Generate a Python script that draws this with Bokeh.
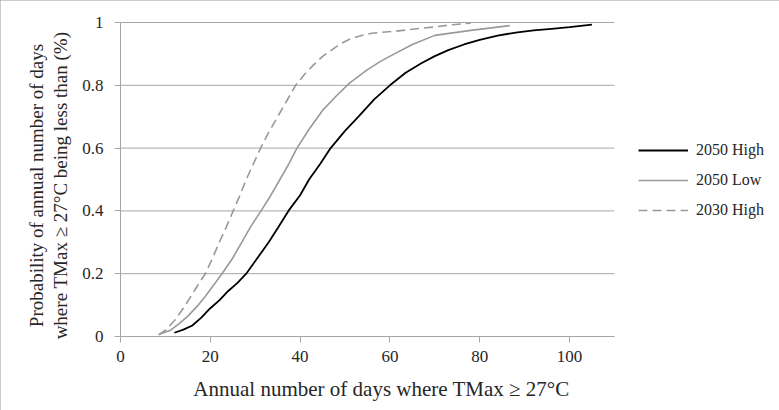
import math
from bokeh.plotting import figure
from bokeh.models import Range1d, FixedTicker, Legend, LegendItem, LinearAxis, Label
from bokeh.core.properties import value
from bokeh.embed import file_html
from bokeh.resources import INLINE

# ---- data ----
high2050_x = [12, 14, 16, 18, 20, 22, 24, 26, 28, 30.5, 33, 35, 37.4, 40, 42, 44.5, 46.8, 50, 53, 56.5, 60, 63.5, 67, 70, 73, 76.5, 80, 84, 88, 92, 96, 100, 105]
high2050_y = [0.012, 0.022, 0.035, 0.06, 0.09, 0.115, 0.145, 0.17, 0.2, 0.25, 0.3, 0.345, 0.4, 0.45, 0.5, 0.55, 0.6, 0.655, 0.7, 0.755, 0.8, 0.84, 0.87, 0.893, 0.912, 0.93, 0.945, 0.958, 0.968, 0.975, 0.98, 0.985, 0.993]

low2050_x = [8.5, 11, 13, 15, 17, 19, 20.8, 22.6, 25, 27, 29, 31.3, 33.5, 35.5, 37.5, 39.3, 42, 45, 48, 51, 55, 58, 61, 65, 70, 78, 86.7]
low2050_y = [0.006, 0.019, 0.04, 0.065, 0.095, 0.13, 0.165, 0.2, 0.25, 0.3, 0.35, 0.4, 0.45, 0.5, 0.55, 0.6, 0.66, 0.72, 0.765, 0.807, 0.85, 0.877, 0.9, 0.93, 0.959, 0.975, 0.99]

high2030_x = [8.5, 10, 12, 14, 16, 17.5, 18.9, 20.5, 22, 23.6, 25.1, 26.6, 28, 29.6, 31.2, 33, 35, 37, 39, 41, 43, 45, 47, 49, 51.2, 53.5, 56, 61, 66, 70, 74, 78]
high2030_y = [0.005, 0.02, 0.05, 0.09, 0.135, 0.17, 0.2, 0.25, 0.3, 0.35, 0.4, 0.45, 0.5, 0.55, 0.6, 0.65, 0.7, 0.75, 0.8, 0.835, 0.865, 0.892, 0.912, 0.932, 0.948, 0.958, 0.966, 0.972, 0.98, 0.986, 0.993, 0.998]

series_names = ["2050 High", "2050 Low", "2030 High"]
x_ticks = [0, 20, 40, 60, 80, 100]
x_tick_labels = ["0", "20", "40", "60", "80", "100"]
x_axis_end = 110
y_ticks = [0, 0.2, 0.4, 0.6, 0.8, 1]
y_tick_labels = ["0", "0.2", "0.4", "0.6", "0.8", "1"]
x_title = "Annual number of days where TMax \u2265 27\u00b0C"
y_title = "Probability of annual number of days\nwhere TMax \u2265 27\u00b0C being less than (%)"

FONT = "Liberation Serif"
AXIS_GRAY = "#a6a6a6"
TEXT = "#262626"

W, H = 779, 410
# plot area of the reference in pixels: x 0 -> 120px, 100 -> 569px; y 0 -> 336px, 1 -> 22px
PX_X = 4.49
PX_Y = 314.0
X0_PX, Y0_PX = 120, 336

p = figure(
    width=W, height=H,
    min_border_left=0, min_border_right=0, min_border_top=0, min_border_bottom=0,
    x_range=Range1d(-X0_PX / PX_X, (W - X0_PX) / PX_X),
    y_range=Range1d(-(H - Y0_PX) / PX_Y, Y0_PX / PX_Y),
    x_axis_type=None, y_axis_type=None,
    output_backend="svg", toolbar_location=None,
)
p.outline_line_color = None
p.background_fill_color = "white"
p.border_fill_color = "white"
p.styles = {"outline": "2px solid #999999", "outline-offset": "-2px"}
p.xgrid.visible = False
p.ygrid.visible = False

common = dict(
    fixed_location=0,
    axis_line_color=AXIS_GRAY, major_tick_line_color=AXIS_GRAY,
    major_tick_out=6, major_tick_in=0, minor_tick_line_color=None,
    major_label_text_font_size="0px", major_label_text_alpha=0,
)
p.add_layout(LinearAxis(ticker=FixedTicker(ticks=x_ticks), bounds=(0, x_axis_end), **common), "below")
p.add_layout(LinearAxis(ticker=FixedTicker(ticks=y_ticks), bounds=(0, 1), **common), "left")

# horizontal gridlines, limited to the axis extent
p.segment(x0=[0] * len(y_ticks), x1=[x_axis_end] * len(y_ticks), y0=y_ticks, y1=y_ticks,
          line_color=AXIS_GRAY, line_width=1)

# tick labels
p.text(x=x_ticks, y=[0] * len(x_ticks), text=x_tick_labels, y_offset=20,
       text_align="center", text_baseline="middle",
       text_font=value(FONT), text_font_size="17px", text_color=TEXT)
p.text(x=[0] * len(y_ticks), y=y_ticks, text=y_tick_labels, x_offset=-17,
       text_align="right", text_baseline="middle",
       text_font=value(FONT), text_font_size="17px", text_color=TEXT)

r1 = p.line(high2050_x, high2050_y, line_color="black", line_width=1.8)
r2 = p.line(low2050_x, low2050_y, line_color="#999999", line_width=1.6)
r3 = p.line(high2030_x, high2030_y, line_color="#999999", line_width=1.6, line_dash="9 5")

# axis titles
p.add_layout(Label(x=381, y=H - 388, x_units="screen", y_units="screen", text=x_title,
                   text_align="center", text_baseline="middle",
                   text_font=FONT, text_font_size="21px", text_color=TEXT))
p.add_layout(Label(x=48, y=H - 185, x_units="screen", y_units="screen", text=y_title,
                   angle=math.pi / 2, text_align="center", text_baseline="middle",
                   text_line_height=1.15,
                   text_font=FONT, text_font_size="19px", text_color=TEXT))

legend = Legend(
    items=[LegendItem(label=n, renderers=[r]) for n, r in zip(series_names, [r1, r2, r3])],
    location=(638, 190),
    label_text_font=FONT, label_text_font_size="16px", label_text_color=TEXT,
    glyph_width=50, glyph_height=20, label_height=20, label_standoff=8, spacing=10,
    border_line_color=None, background_fill_alpha=0, margin=0, padding=10,
)
p.add_layout(legend)

open("out.html", "w").write(file_html(p, INLINE))
